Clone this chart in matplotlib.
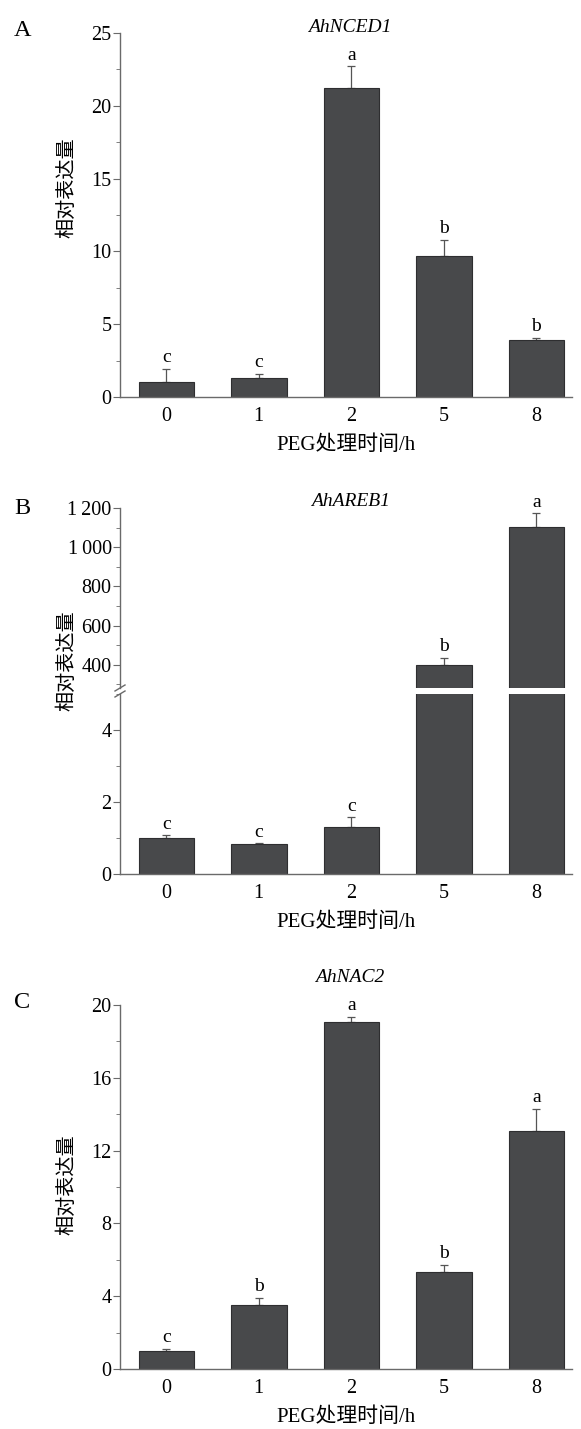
import numpy as np
import matplotlib.pyplot as plt
from matplotlib.ticker import MultipleLocator, FuncFormatter

# data
times = ['0', '1', '2', '5', '8']

nced1 = [1.0, 1.28, 21.2, 9.7, 3.94]
nced1_err = [0.95, 0.32, 1.5, 1.1, 0.12]
nced1_sig = ['c', 'c', 'a', 'b', 'b']

areb1 = [1.0, 0.82, 1.31, 400, 1101]
areb1_err = [0.07, 0.03, 0.26, 37, 72]
areb1_sig = ['c', 'c', 'c', 'b', 'a']

nac2 = [0.99, 3.52, 19.06, 5.34, 13.1]
nac2_err = [0.11, 0.38, 0.27, 0.38, 1.2]
nac2_sig = ['c', 'b', 'a', 'b', 'a']

FONT = ['Liberation Serif', 'Noto Sans CJK SC']
plt.rcParams['font.family'] = FONT
plt.rcParams['font.size'] = 14

BAR = '#48494b'
EDGE = '#2e2e30'
AX = '#6a6a6a'

W, H = 581, 1429
fig = plt.figure(figsize=(W / 100, H / 100), dpi=100)


def rect(top, bottom, left=120, right=572):
    return [left / W, 1 - bottom / H, (right - left) / W, (bottom - top) / H]


x = np.arange(len(times))


def style(ax, bottom=True):
    for s in ['right', 'top']:
        ax.spines[s].set_visible(False)
    if not bottom:
        ax.spines['bottom'].set_visible(False)
    for s in ['left', 'bottom']:
        ax.spines[s].set_color(AX)
        ax.spines[s].set_linewidth(1.0)
    ax.tick_params(axis='y', which='major', length=5, color=AX, labelsize=14.5, pad=1)
    ax.tick_params(axis='y', which='minor', length=3, color=AX)
    ax.tick_params(axis='x', length=0, labelsize=14.5, pad=7)
    ax.set_xlim(-0.5, 4.386)
    ax.set_xticks(x)
    if bottom:
        ax.set_xticklabels(times)
    else:
        ax.set_xticklabels([])


def bars(ax, vals, errs, sig, show):
    ax.bar(x, vals, width=0.6, color=BAR, edgecolor=EDGE, linewidth=0.8, zorder=2)
    for i in show:
        ax.errorbar(x[i], vals[i], yerr=[[0], [errs[i]]], fmt='none',
                    ecolor='#555555', elinewidth=0.9, capsize=3, capthick=0.9, zorder=1)
        ax.annotate(sig[i], (x[i], vals[i] + errs[i]), xytext=(0, 2),
                    textcoords='offset points', ha='center', va='bottom', fontsize=14)


def xlabel(ax):
    ax.set_xlabel('PEG处理时间/h', fontsize=15, labelpad=7)


def ylabel(ycenter):
    fig.text(68 / W, 1 - ycenter / H, '相对表达量', fontsize=14.5, rotation=90,
             va='center', ha='center')


def title(name, ycenter):
    fig.text(350 / W, 1 - ycenter / H, name, style='italic', fontsize=14,
             va='center', ha='center')


def panel(letter, y):
    fig.text(14 / W, 1 - y / H, letter, fontsize=17.5, va='center', ha='left')


# ---- A
axA = fig.add_axes(rect(33, 397))
bars(axA, nced1, nced1_err, nced1_sig, range(5))
axA.set_ylim(0, 25)
axA.yaxis.set_major_locator(MultipleLocator(5))
axA.yaxis.set_minor_locator(MultipleLocator(2.5))
style(axA)
xlabel(axA)
title('AhNCED1', 27)
ylabel(188)
panel('A', 30)

# ---- B (broken axis)
axBu = fig.add_axes(rect(508, 688))
axBl = fig.add_axes(rect(694, 874))
bars(axBu, areb1, areb1_err, areb1_sig, [3, 4])
bars(axBl, areb1, areb1_err, areb1_sig, [0, 1, 2])
axBu.set_ylim(282, 1200)
axBu.yaxis.set_major_locator(MultipleLocator(200))
axBu.yaxis.set_minor_locator(MultipleLocator(100))
axBu.yaxis.set_major_formatter(FuncFormatter(
    lambda v, p: f'{int(v):,}'.replace(',', '\u2009')))
axBl.set_ylim(0, 5)
axBl.yaxis.set_major_locator(MultipleLocator(2))
axBl.yaxis.set_minor_locator(MultipleLocator(1))
style(axBu, bottom=False)
style(axBl)
xlabel(axBl)
title('AhAREB1', 502)
# break marks on the spine
for yy in (688, 694):
    fy = 1 - yy / H
    fig.add_artist(plt.Line2D([(120 - 5) / W, (120 + 5) / W],
                              [fy - 3 / H, fy + 3 / H], color=AX, lw=1.0))
ylabel(661)
panel('B', 508)

# ---- C
axC = fig.add_axes(rect(1005, 1369))
bars(axC, nac2, nac2_err, nac2_sig, range(5))
axC.set_ylim(0, 20)
axC.yaxis.set_major_locator(MultipleLocator(4))
axC.yaxis.set_minor_locator(MultipleLocator(2))
style(axC)
xlabel(axC)
title('AhNAC2', 977)
ylabel(1185)
panel('C', 1003)

fig.savefig('out.png', dpi=100)
